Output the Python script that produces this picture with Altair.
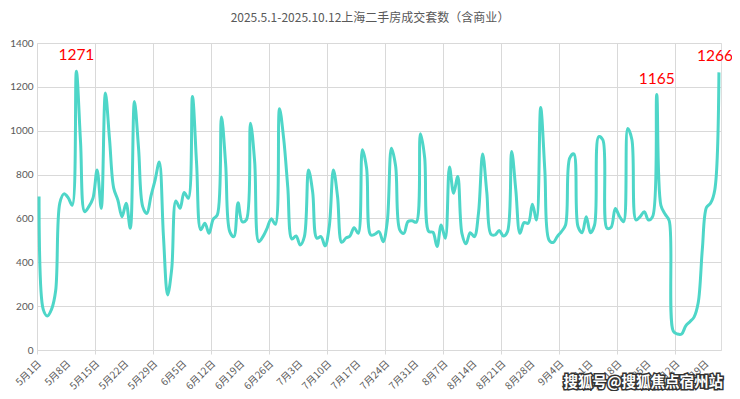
import altair as alt
import pandas as pd

# Daily second-hand home transactions, Shanghai, 2025-05-01 .. 2025-10-12 (165 days)
values = [
    700, 185, 155, 185, 270, 670, 712, 695, 660, 1271,
    950, 631, 654, 692, 821, 646, 1172, 960, 738, 684,
    608, 669, 555, 1133, 920, 654, 622, 703, 776, 857,
    520, 251, 370, 680, 646, 718, 692, 1156, 850, 548,
    578, 532, 596, 616, 1062, 850, 540, 517, 672, 585,
    593, 1034, 860, 494, 517, 555, 598, 573, 1100, 965,
    740, 506, 520, 479, 517, 821, 720, 510, 517, 475,
    563, 821, 700, 491, 510, 520, 558, 532, 913, 830,
    525, 528, 540, 494, 586, 920, 840, 548, 532, 586,
    589, 583, 986, 880, 540, 537, 472, 570, 510, 834,
    715, 791, 532, 484, 535, 517, 624, 894, 720, 528,
    525, 545, 520, 540, 905, 730, 532, 581, 578, 665,
    593, 1106, 820, 502, 490, 517, 540, 570, 875, 894,
    563, 535, 608, 535, 570, 973, 958, 555, 560, 645,
    610, 585, 1010, 960, 593, 608, 631, 593, 608, 1165,
    660, 620, 590, 85, 73, 73, 110, 129, 150, 215,
    460, 650, 670, 730, 1266,
]

tick_labels = ["5月1日", "5月8日", "5月15日", "5月22日", "5月29日", "6月5日",
               "6月12日", "6月19日", "6月26日", "7月3日", "7月10日", "7月17日",
               "7月24日", "7月31日", "8月7日", "8月14日", "8月21日", "8月28日",
               "9月4日", "9月11日", "9月18日", "9月25日", "10月2日", "10月9日"]
tick_days = [7 * k for k in range(len(tick_labels))]
labelled_days = [9, 149]
last_labelled_day = [164]

title_text = "2025.5.1-2025.10.12上海二手房成交套数（含商业）"
watermark = "搜狐号@搜狐焦点宿州站"

W, H = 684, 307

df = pd.DataFrame({"day": list(range(len(values))), "value": values})
df["pos"] = df["day"] + 0.5
ticks_df = pd.DataFrame({"pos": tick_days, "label": tick_labels})

x_scale = alt.Scale(domain=[0, len(values)], nice=False, zero=False)
x_enc = alt.X(
    "pos:Q",
    scale=x_scale,
    axis=alt.Axis(
        values=tick_days, labels=False, title=None,
        tickSize=4, tickColor="#d9d9d9", domain=False,
        grid=True, gridColor="#d9d9d9",
    ),
)
y_enc = alt.Y(
    "value:Q",
    scale=alt.Scale(domain=[0, 1400], nice=False),
    axis=alt.Axis(
        values=list(range(0, 1401, 200)), title=None, domain=False, ticks=False,
        format="d", labelFontSize=10, labelColor="#595959", labelFont="Lato",
        labelPadding=4, grid=True, gridColor="#d9d9d9",
    ),
)

base = alt.Chart(df)

line = base.mark_line(
    color="#4ED6C8", strokeWidth=3, interpolate="catmull-rom"
).encode(x=x_enc, y=y_enc)

# x tick labels (rotated), drawn at the tick positions via the shared x scale
xlabels = alt.Chart(ticks_df).mark_text(
    angle=315, align="right", baseline="top", fontSize=10,
    font="Noto Sans CJK SC", color="#595959", dx=-1,
).encode(x=alt.X("pos:Q", scale=x_scale), y=alt.value(H + 8), text="label:N")

labels = base.transform_filter(
    alt.FieldOneOfPredicate(field="day", oneOf=labelled_days)
).mark_text(
    color="#FF0000", fontSize=15.5, font="Lato", dy=-11,
    baseline="alphabetic", align="center",
).encode(x="pos:Q", y="value:Q", text="value:Q")

last_label = base.transform_filter(
    alt.FieldOneOfPredicate(field="day", oneOf=last_labelled_day)
).mark_text(
    color="#FF0000", fontSize=15.5, font="Lato", dy=-11, dx=-4,
    baseline="alphabetic", align="center",
).encode(x="pos:Q", y="value:Q", text="value:Q")

wm_df = pd.DataFrame({"t": [watermark]})
wm_shadow = alt.Chart(wm_df).mark_text(
    font="Noto Sans CJK SC", fontSize=14.5, fontWeight="bold", align="right",
    baseline="alphabetic", fill="#333333", stroke="#333333", strokeWidth=3,
).encode(text="t:N", x=alt.value(686), y=alt.value(344))
wm_text = alt.Chart(wm_df).mark_text(
    font="Noto Sans CJK SC", fontSize=14.5, fontWeight="bold", align="right",
    baseline="alphabetic", fill="#ffffff",
).encode(text="t:N", x=alt.value(686), y=alt.value(344))

chart = alt.layer(line, xlabels, labels, last_label, wm_shadow, wm_text).properties(
    width=W,
    height=H,
    title=alt.TitleParams(
        title_text, fontSize=12, color="#595959", font="Noto Sans CJK SC",
        fontWeight="normal", anchor="middle", frame="group", offset=13, dx=-9,
    ),
    autosize=alt.AutoSizeParams(type="none"),
    padding={"left": 29, "top": 35, "right": 11, "bottom": 41},
).configure_view(stroke=None).configure(background="#ffffff")

chart.save("out.html", embed_options={"renderer": "svg", "actions": False})
